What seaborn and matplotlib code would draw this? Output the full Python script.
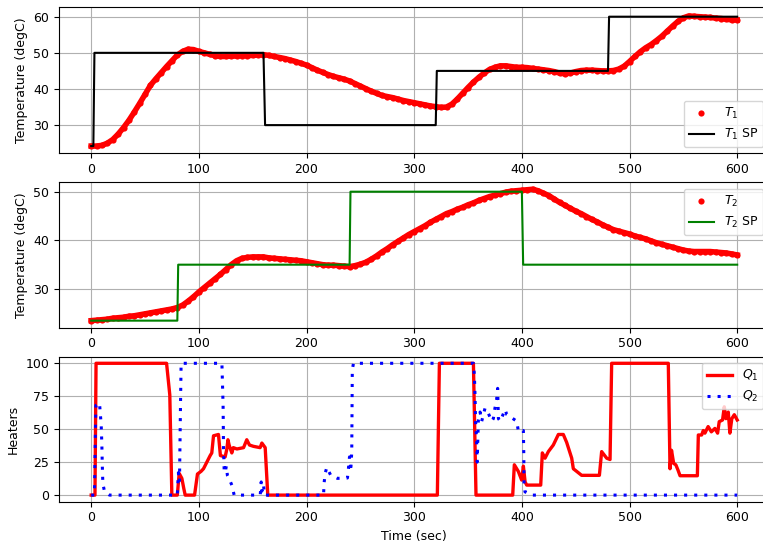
import numpy as np
import pandas as pd
import matplotlib
matplotlib.use("Agg")
import matplotlib.pyplot as plt
import seaborn as sns

# ---------------- data ----------------
t5 = list(range(0, 601, 5))

T1 = [24.2, 24.2, 24.4, 25.0, 26.0, 27.5, 29.3, 31.3, 33.6, 36.0,
      38.5, 41.0, 42.8, 44.5, 46.2, 47.8, 49.4, 50.4, 51.0, 50.9,
      50.4, 50.0, 49.6, 49.2, 49.0, 49.0, 49.1, 49.1, 49.2, 49.2,
      49.3, 49.4, 49.5, 49.3, 49.0, 48.7, 48.4, 48.0, 47.6, 47.1,
      46.6, 45.9, 45.2, 44.6, 44.0, 43.5, 43.1, 42.7, 42.2, 41.5,
      40.8, 40.1, 39.4, 38.8, 38.2, 37.9, 37.6, 37.2, 36.8, 36.5,
      36.2, 35.9, 35.6, 35.3, 35.1, 34.9, 35.0, 35.8, 37.2, 38.8,
      40.4, 41.9, 43.2, 44.4, 45.4, 46.0, 46.4, 46.4, 46.2, 46.0,
      46.0, 45.9, 45.7, 45.5, 45.3, 45.1, 44.8, 44.4, 44.2, 44.4,
      44.8, 45.1, 45.2, 45.2, 45.1, 45.0, 45.0, 45.1, 45.5, 46.3,
      47.6, 49.0, 50.3, 51.4, 52.3, 53.4, 54.6, 56.0, 57.4, 58.7,
      59.7, 60.2, 60.1, 60.0, 59.9, 59.8, 59.6, 59.5, 59.3, 59.1,
      59.1]

T2 = [23.5, 23.6, 23.7, 23.8, 24.0, 24.1, 24.2, 24.4, 24.5, 24.7,
      24.9, 25.1, 25.3, 25.5, 25.7, 25.9, 26.2, 26.7, 27.5, 28.4,
      29.4, 30.3, 31.2, 32.1, 33.0, 34.0, 35.0, 35.8, 36.3, 36.5,
      36.6, 36.6, 36.6, 36.4, 36.3, 36.2, 36.1, 36.0, 35.9, 35.8,
      35.6, 35.4, 35.2, 35.0, 34.9, 34.9, 34.8, 34.7, 34.6, 34.8,
      35.1, 35.5, 36.1, 36.8, 37.6, 38.3, 39.1, 39.8, 40.5, 41.2,
      41.8, 42.4, 43.0, 43.7, 44.3, 44.9, 45.5, 45.9, 46.4, 46.8,
      47.3, 47.7, 48.2, 48.6, 49.0, 49.3, 49.6, 49.9, 50.1, 50.2,
      50.3, 50.4, 50.5, 50.2, 49.7, 49.2, 48.5, 47.8, 47.2, 46.6,
      46.0, 45.5, 44.9, 44.3, 43.8, 43.2, 42.7, 42.2, 41.9, 41.6,
      41.3, 40.9, 40.6, 40.3, 39.9, 39.5, 39.2, 38.9, 38.6, 38.3,
      38.0, 37.8, 37.7, 37.7, 37.7, 37.7, 37.6, 37.5, 37.4, 37.2,
      37.0]

sp1_t = [0, 2, 3, 160, 161.5, 320, 321, 480, 481, 600]
sp1_v = [24.2, 24.2, 50, 50, 30, 30, 45, 45, 60, 60]

sp2_t = [0, 80, 80.8, 240, 240.8, 400, 401.2, 600]
sp2_v = [23.5, 23.5, 35, 35, 50, 50, 35, 35]

q1_t = [0, 3.5, 4.5, 70, 73, 74.9, 80, 81.7, 84.2, 86, 87.3, 96, 98.7, 102,
        104.3, 107.4, 110.5, 112, 113.6, 118.2, 120, 124.4, 126, 127, 128.1,
        130.6, 132, 135.3, 141.5, 144.5, 147, 150.7, 156.9, 158.5, 161.6, 164,
        321.5, 323.4, 355, 357.4, 391.5, 393, 396.7, 399.8, 401.4, 403, 404.5,
        417.5, 419, 421.5, 424.6, 429.2, 433.9, 438.5, 441.6, 446.3, 447.8,
        450.9, 455.5, 472, 474.1, 478.8, 481.9, 483.4, 536, 537.6, 539, 541,
        543, 545, 546.9, 563, 563.9, 567, 568.5, 570, 573, 576, 579.3, 581.8,
        583.3, 586.4, 588, 589.5, 591.7, 593.2, 595, 597.3, 600]
q1_v = [0, 0, 100, 100, 76, 0, 0, 16.5, 12.7, 5, 0, 0, 16, 18,
        20, 25, 30, 32, 45, 46, 30, 29, 35, 42, 38,
        32, 36, 35, 36, 42, 38, 37, 36, 39.5, 36, 0,
        0, 100, 100, 0, 0, 23, 18, 11.4, 22, 10, 7.6,
        7.6, 32, 28, 33, 38, 46, 46, 40, 28, 20,
        18, 15, 15, 33, 28, 27, 100, 100, 20, 34, 24,
        23, 19, 14.7, 14.7, 45.6, 45.6, 49, 47, 52, 48, 50.6, 47,
        55.7, 57, 67, 58, 63, 47, 58, 61, 57]

q2_t = [0, 3, 4.3, 7.7, 9.3, 9.9, 10.3, 10.8, 12.4, 17, 80, 81, 82, 82.8,
        83.5, 121.4, 122.5, 122.9, 123.5, 124.4, 125.5, 126.5, 128, 130.6,
        132.8, 157, 157.9, 158.5, 160, 161, 215.8, 216.3, 217.3, 218.8, 222.5,
        228.7, 238, 238.9, 239.9, 240.5, 241, 241.5, 242, 242.5, 243.6, 355,
        355.9, 356.5, 357, 358, 358.5, 359.6, 361.2, 362.7, 365.8, 368.9, 372,
        373.5, 375, 376.6, 377.5, 378.2, 380, 384.4, 386, 389.1, 395.3, 396.8,
        401.4, 401.8, 402, 402.9, 409, 600]
q2_v = [0, 0, 68, 70, 53, 38, 23, 9, 2.5, 0, 0, 17, 10, 60,
        100, 100, 68, 35, 19, 17, 22, 15, 12.7, 7.6,
        0, 0, 10, 3, 8, 0, 0, 9, 16.5, 21, 15,
        12.7, 13, 20, 29, 24, 18, 25, 33, 95, 100, 100,
        91, 76, 56, 40, 25, 57, 63, 56, 66, 62, 56,
        58, 66, 73, 81, 58, 56, 65, 61, 59.5, 56, 48,
        49, 30, 10, 2.5, 0, 0]

x_ticks = [0, 100, 200, 300, 400, 500, 600]
q_ticks = [0, 25, 50, 75, 100]

# ---------------- figure ----------------
plt.rcParams.update({"font.size": 9, "font.family": ["DejaVu Sans"]})
fig = plt.figure(figsize=(7.63, 5.44), dpi=100)
W, H = 763.0, 544.0
left = 58.9 / W
width = (769.5 - 58.9) / W
ax1 = fig.add_axes([left, (H - 153.3) / H, width, 146.0 / H])
ax2 = fig.add_axes([left, (H - 327.7) / H, width, 145.4 / H])
ax3 = fig.add_axes([left, (H - 501.7) / H, width, 145.0 / H])


def measured(ax, t, v, label):
    # dense band of measurement points (thick red trace of dots)
    sns.lineplot(x=t, y=v, ax=ax, color="red", linewidth=4.0,
                 sort=False, estimator=None, legend=False, zorder=3)
    sns.scatterplot(x=t, y=v, ax=ax, color="red", s=20, linewidth=0,
                    label=label, zorder=3)


# Panel 1
measured(ax1, t5, T1, "$T_1$")
sns.lineplot(x=sp1_t, y=sp1_v, ax=ax1, color="black", linewidth=1.5,
             sort=False, estimator=None, label="$T_1$ SP", zorder=4)
ax1.set_ylim(22.2, 62.6)
ax1.set_ylabel("Temperature (degC)")
ax1.legend(loc="lower right")

# Panel 2
measured(ax2, t5, T2, "$T_2$")
sns.lineplot(x=sp2_t, y=sp2_v, ax=ax2, color="green", linewidth=1.5,
             sort=False, estimator=None, label="$T_2$ SP", zorder=4)
ax2.set_ylim(22.05, 51.93)
ax2.set_ylabel("Temperature (degC)")
ax2.legend(loc="upper right")

# Panel 3
sns.lineplot(x=q1_t, y=q1_v, ax=ax3, color="red", linewidth=2.4,
             sort=False, estimator=None, label="$Q_1$")
sns.lineplot(x=q2_t, y=q2_v, ax=ax3, color="blue", linewidth=2.2,
             sort=False, estimator=None, label="$Q_2$",
             linestyle=(0, (1, 2.3)))
ax3.set_ylim(-5, 105)
ax3.set_yticks(q_ticks)
ax3.set_ylabel("Heaters")
ax3.set_xlabel("Time (sec)")
ax3.legend(loc="upper right")

for ax in (ax1, ax2, ax3):
    ax.set_xlim(-30, 630)
    ax.set_xticks(x_ticks)
    ax.grid(True)
    ax.set_axisbelow(True)
for ax in (ax1, ax2):
    ax.set_xlabel("")

fig.savefig("out.png", dpi=100)
